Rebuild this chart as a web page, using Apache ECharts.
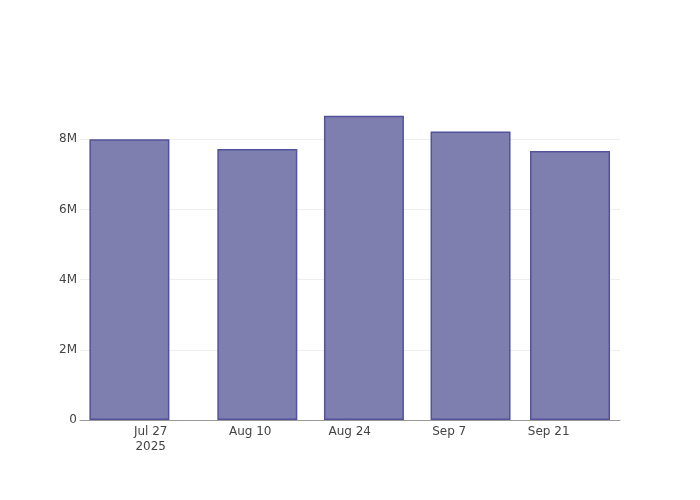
<!DOCTYPE html>
<html>
<head>
<meta charset="utf-8">
<script src="https://cdn.jsdelivr.net/npm/echarts@6/dist/echarts.min.js"></script>
<style>html,body{margin:0;padding:0;background:#fff}#c{width:700px;height:500px}</style>
</head>
<body>
<div id="c"></div>
<script>
var DAY = 86400000;
// bar dates (UTC) and values
var barDates = [[2025,6,24],[2025,7,11],[2025,7,26],[2025,8,10],[2025,8,24]];
var barValues = [8.0e6, 7.72e6, 8.67e6, 8.22e6, 7.67e6];
// x tick dates and labels
var tickDates = [[2025,6,27],[2025,7,10],[2025,7,24],[2025,8,7],[2025,8,21]];
var tickLabels = ['Jul 27\n2025','Aug 10','Aug 24','Sep 7','Sep 21'];
// y ticks
var yTicks = [0, 2e6, 4e6, 6e6, 8e6];

// x positions measured in days since Unix epoch
function dayNum(d){ return Date.UTC(d[0], d[1], d[2]) / DAY; }
var barX = barDates.map(dayNum);
var tickX = tickDates.map(dayNum);
var xMin = tickX[0] - 9.95;
var xMax = tickX[0] + 66.03;

var chart = echarts.init(document.getElementById('c'), null, {renderer:'canvas'});
chart.setOption({
  animation: false,
  backgroundColor: '#fff',
  textStyle: {fontFamily: 'DejaVu Sans'},
  grid: {left: 80, right: 80, top: 100, bottom: 80, containLabel: false},
  xAxis: {
    type: 'value',
    min: xMin,
    max: xMax,
    axisLine: {show: true, lineStyle: {color: '#999', width: 1}},
    axisTick: {show: false},
    splitLine: {show: false},
    axisLabel: {
      customValues: tickX,
      color: '#444', fontSize: 12, fontFamily: 'DejaVu Sans', margin: 4, lineHeight: 15,
      formatter: function(v){
        for (var i = 0; i < tickX.length; i++) {
          if (Math.abs(tickX[i] - v) < 1e-6) return tickLabels[i];
        }
        return '';
      }
    }
  },
  yAxis: {
    type: 'value',
    min: 0,
    max: 9.12e6,
    interval: 2e6,
    axisLine: {show: false},
    axisTick: {show: false, customValues: yTicks},
    splitLine: {show: true, lineStyle: {color: '#eeeeee', width: 1}},
    axisLabel: {
      customValues: yTicks,
      color: '#444', fontSize: 12, fontFamily: 'DejaVu Sans', margin: 3,
      formatter: function(v){ return v === 0 ? '0' : (v / 1e6) + 'M'; }
    }
  },
  series: [{
    type: 'bar',
    barWidth: 80,
    data: barX.map(function(t, i){ return [t, barValues[i]]; }),
    itemStyle: {color: '#7f7faf', borderColor: '#52529a', borderWidth: 1.5}
  }]
});
</script>
</body>
</html>
